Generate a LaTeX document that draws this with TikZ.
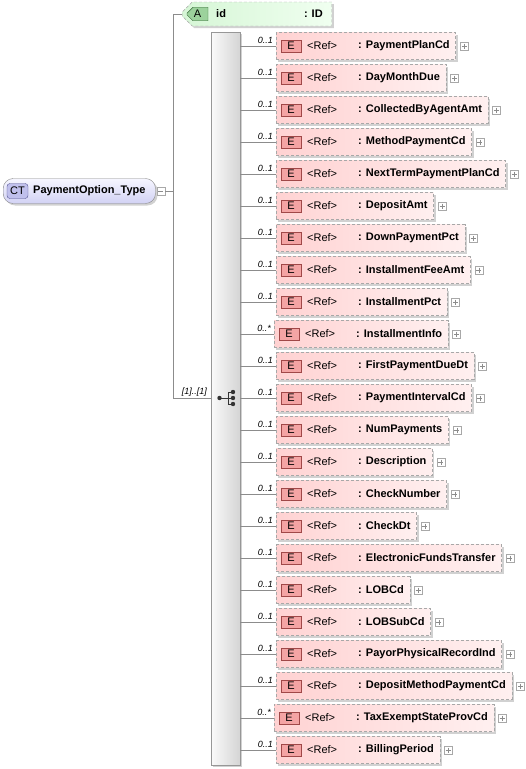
\documentclass[tikz,border=0pt]{standalone}
\usepackage{fontspec}
\setmainfont{Liberation Sans}
\usetikzlibrary{shadows,shapes.misc}

\definecolor{lineC}{HTML}{8C8C8C}
\definecolor{frameC}{HTML}{A8A8A8}
\definecolor{elemL}{HTML}{FFD2D2}
\definecolor{elemR}{HTML}{FFF0F0}
\definecolor{ebadgeF}{HTML}{F4A4A4}
\definecolor{ebadgeD}{HTML}{A04848}
\definecolor{attrL}{HTML}{D6F6D6}
\definecolor{attrR}{HTML}{F0FFF0}
\definecolor{abadgeF}{HTML}{9CD29C}
\definecolor{abadgeD}{HTML}{3C6C3C}
\definecolor{ctT}{HTML}{F6F6FF}
\definecolor{ctB}{HTML}{D2D2F4}
\definecolor{ctbadgeF}{HTML}{C0C0EC}
\definecolor{ctbadgeD}{HTML}{505090}
\definecolor{seqL}{HTML}{FAFAFA}
\definecolor{seqR}{HTML}{D4D4D4}

\tikzset{
  softshadow/.style={drop shadow={shadow xshift=2pt, shadow yshift=-2pt, opacity=0.18, fill=black}},
  conn/.style={draw=lineC, line width=0.8pt},
  elembox/.style={draw=frameC, dash pattern=on 3pt off 2pt, left color=elemL, right color=elemR,
    minimum height=27pt, inner xsep=6pt, inner ysep=0pt, softshadow},
  ebadge/.style={draw=ebadgeD, fill=ebadgeF, minimum width=20pt, minimum height=12pt, inner sep=0pt},
  plusbox/.style={draw=frameC, fill=white, minimum size=8pt, inner sep=0pt,
    path picture={\draw[lineC] ([yshift=-1.5pt]path picture bounding box.north) -- ([yshift=1.5pt]path picture bounding box.south)
      ([xshift=1.5pt]path picture bounding box.west) -- ([xshift=-1.5pt]path picture bounding box.east);}},
  minusbox/.style={draw=frameC, fill=white, minimum size=8pt, inner sep=0pt,
    path picture={\draw[lineC] ([xshift=1.5pt]path picture bounding box.west) -- ([xshift=-1.5pt]path picture bounding box.east);}},
  mult/.style={font=\fontsize{9}{10}\selectfont\itshape, inner sep=0pt},
  seqbar/.style={draw=frameC!90!black, left color=seqL, right color=seqR, inner sep=0pt, softshadow},
  ctbox/.style={draw=frameC!80!black, rounded corners=10pt, top color=ctT, bottom color=ctB,
    minimum height=25pt, inner xsep=10pt, inner ysep=0pt, softshadow},
  ctbadge/.style={draw=ctbadgeD, fill=ctbadgeF, rounded corners=3pt, minimum width=21pt, minimum height=15pt, inner sep=0pt},
  attrbox/.style={chamfered rectangle, chamfered rectangle corners={north west,south west},
    chamfered rectangle xsep=6pt, chamfered rectangle ysep=6pt,
    draw=frameC, dash pattern=on 3pt off 2pt, left color=attrL, right color=attrR,
    minimum height=24pt, inner xsep=5pt, inner ysep=0pt, softshadow},
  abadge/.style={chamfered rectangle, chamfered rectangle corners={north west,south west},
    chamfered rectangle xsep=3pt, chamfered rectangle ysep=3pt,
    draw=abadgeD, fill=abadgeF, minimum width=21pt, minimum height=13pt, inner sep=0pt}
}

\begin{document}
\begin{tikzpicture}[x=1pt, y=-1pt, font=\fontsize{11}{13}\selectfont]
\useasboundingbox (0,0) rectangle (526,769);

% complex type
\node[ctbox, anchor=west] (ct) at (3,191) {\hspace*{20pt}\bfseries PaymentOption\_Type};
\node[ctbadge] (ctb) at ([xshift=14.5pt]ct.west) {CT};
\node[minusbox, anchor=west] (ctm) at ([xshift=1pt]ct.east) {};

% attribute id
\node[attrbox, anchor=west] (attr) at (182,14) {\hspace*{25pt}\bfseries id\hspace{78pt}: ID};
\node[abadge] (ab) at ([xshift=15.5pt]attr.west) {A};

% sequence
\node[seqbar, anchor=north west, minimum width=29pt, minimum height=733pt] (seq) at (211,32) {};
\coordinate (tk) at (173,0);
\coordinate (sqin) at (211,398);
\draw[conn] (ctm.east) -- (ctm.east -| tk);
\draw[conn] (attr.west) -| (tk |- sqin) -- (sqin);
\node[mult, anchor=base east] (seqm) at ([xshift=-4pt,yshift=4pt]sqin) {[1]..[1]};

% sequence symbol
\begin{scope}[black!80]
  \fill (219.5,398) circle (2.2);
  \draw[line width=1pt] (219.5,398) -- (228,398);
  \draw[line width=1pt] (228,392) -- (228,404);
  \foreach \dy in {392,398,404} {
    \draw[line width=1pt] (228,\dy) -- (233,\dy);
    \fill (233,\dy) circle (2.2);
  }
\end{scope}

% child elements
\foreach \nm/\mult/\bx [count=\i] in {
  PaymentPlanCd/0..1/276, DayMonthDue/0..1/276, CollectedByAgentAmt/0..1/276,
  MethodPaymentCd/0..1/276, NextTermPaymentPlanCd/0..1/276, DepositAmt/0..1/276,
  DownPaymentPct/0..1/276, InstallmentFeeAmt/0..1/276, InstallmentPct/0..1/276,
  InstallmentInfo/0..*/274, FirstPaymentDueDt/0..1/276, PaymentIntervalCd/0..1/276,
  NumPayments/0..1/276, Description/0..1/276, CheckNumber/0..1/276,
  CheckDt/0..1/276, ElectronicFundsTransfer/0..1/276, LOBCd/0..1/276,
  LOBSubCd/0..1/276, PayorPhysicalRecordInd/0..1/276, DepositMethodPaymentCd/0..1/276,
  TaxExemptStateProvCd/0..*/274, BillingPeriod/0..1/276} {
  \pgfmathsetmacro\ry{46+32*(\i-1)}
  \node[elembox, anchor=west] (el\i) at (\bx,\ry) {\hspace*{76pt}\bfseries : \nm};
  \node[ebadge] (eb\i) at ([xshift=15pt]el\i.west) {E};
  \node[anchor=west, inner sep=0pt] (rf\i) at ([xshift=31pt]el\i.west) {<Ref>};
  \node[plusbox, anchor=west] (pl\i) at ([xshift=4pt]el\i.east) {};
  \draw[conn] (seq.east |- el\i.west) -- (el\i.west);
  \node[mult, anchor=base east] (m\i) at ([xshift=-3pt,yshift=3pt]el\i.west) {\mult};
}
\end{tikzpicture}
\end{document}
